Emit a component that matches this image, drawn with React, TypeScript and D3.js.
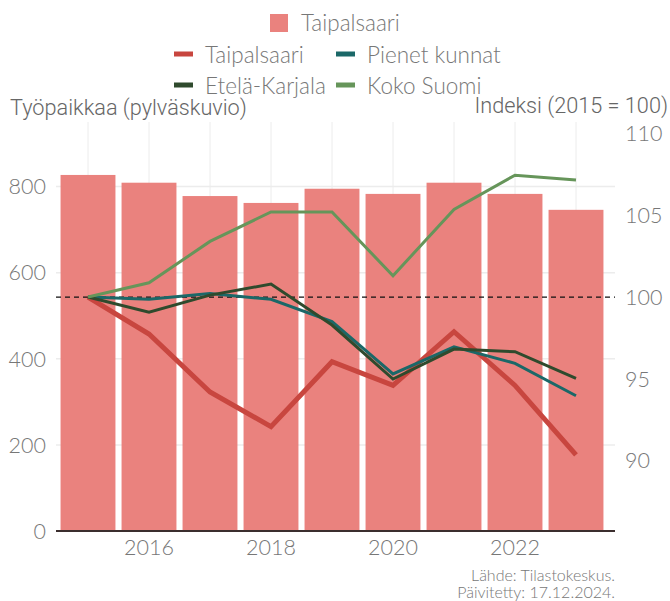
import React from "react";
import * as d3 from "d3";

const years = [2015, 2016, 2017, 2018, 2019, 2020, 2021, 2022, 2023];
const barValues = [827, 809, 778, 762, 795, 783, 809, 783, 746];
const taipalsaariIdx = [100, 97.74, 94.2, 92.08, 96.05, 94.6, 97.88, 94.6, 90.35];
const pienetIdx = [100, 99.86, 100.22, 99.86, 98.5, 95.3, 96.96, 95.95, 93.97];
const etelaIdx = [100, 99.08, 100.12, 100.79, 98.29, 94.99, 96.82, 96.66, 95.03];
const kokoIdx = [100, 100.87, 103.4, 105.2, 105.2, 101.3, 105.36, 107.45, 107.15];
const leftTicks = [0, 200, 400, 600, 800];
const rightTicks = [90, 95, 100, 105, 110];
const xTickYears = [2016, 2018, 2020, 2022];

const lineSeries = [
  { name: "Taipalsaari", values: taipalsaariIdx, color: "#c8463f", width: 5 },
  { name: "Pienet kunnat", values: pienetIdx, color: "#1b6868", width: 3 },
  { name: "Etelä-Karjala", values: etelaIdx, color: "#2f4a2d", width: 3 },
  { name: "Koko Suomi", values: kokoIdx, color: "#66955a", width: 3 },
];

const W = 670;
const H = 601;
const plotL = 56;
const plotR = 615;
const plotT = 122;
const plotB = 531;
const light = "Lato, 'Open Sans', sans-serif";
const gray = "#777";
const titleFont = "Roboto, 'Liberation Sans', Arial, sans-serif";

export default function App() {
  const x = d3
    .scaleBand<number>()
    .domain(years)
    .range([57.5, 606.5])
    .paddingInner(0.1)
    .paddingOuter(0.05);
  const yL = d3.scaleLinear().domain([0, 950]).range([plotB, plotT]);
  const yR = d3.scaleLinear().domain([85.7, 110.7]).range([plotB, plotT]);
  const cx = (yr: number) => (x(yr) as number) + x.bandwidth() / 2;
  const line = d3
    .line<number>()
    .x((_, i) => cx(years[i]))
    .y((v) => yR(v));

  return (
    <svg
      width={W}
      height={H}
      style={{ position: "absolute", left: 0, top: 0, background: "#fff" }}
    >
      {/* gridlines */}
      {years.map((yr) => (
        <line
          key={"vg" + yr}
          x1={cx(yr)}
          x2={cx(yr)}
          y1={plotT}
          y2={plotB}
          stroke="#ececec"
          strokeWidth={1}
        />
      ))}
      {leftTicks.slice(1).map((t) => (
        <line
          key={"hg" + t}
          x1={plotL}
          x2={plotR}
          y1={yL(t)}
          y2={yL(t)}
          stroke="#ececec"
          strokeWidth={1.5}
        />
      ))}
      {/* bars */}
      {years.map((yr, i) => (
        <rect
          key={"b" + yr}
          x={x(yr)}
          y={yL(barValues[i])}
          width={x.bandwidth()}
          height={plotB - yL(barValues[i])}
          fill="#ea827e"
        />
      ))}
      {/* reference line at 100 */}
      <line
        x1={plotL}
        x2={plotR}
        y1={yR(100)}
        y2={yR(100)}
        stroke="#111"
        strokeWidth={1.3}
        strokeDasharray="5,4"
      />
      {/* lines */}
      {lineSeries.map((s) => (
        <path
          key={s.name}
          d={line(s.values) || ""}
          fill="none"
          stroke={s.color}
          strokeWidth={s.width}
          strokeLinejoin="miter"
        />
      ))}
      {/* x axis */}
      <line x1={plotL} x2={plotR} y1={plotB} y2={plotB} stroke="#3b2e2e" strokeWidth={2} />
      {xTickYears.map((yr) => (
        <text
          key={"xt" + yr}
          x={cx(yr)}
          y={555}
          textAnchor="middle"
          fontFamily={light}
          fontWeight={300}
          fontSize={21.5}
          fill={gray}
        >
          {yr}
        </text>
      ))}
      {/* left ticks */}
      {leftTicks.map((t) => (
        <text
          key={"lt" + t}
          x={46}
          y={yL(t)}
          dy="0.36em"
          textAnchor="end"
          fontFamily={light}
          fontWeight={300}
          fontSize={21.5}
          fill={gray}
        >
          {t}
        </text>
      ))}
      {/* right ticks */}
      {rightTicks.map((t) => (
        <text
          key={"rt" + t}
          x={625}
          y={yR(t)}
          dy="0.36em"
          textAnchor="start"
          fontFamily={light}
          fontWeight={300}
          fontSize={21.5}
          fill={gray}
        >
          {t}
        </text>
      ))}
      {/* axis titles */}
      <text x={10} y={115} fontFamily={titleFont} fontWeight={300} fontSize={21.7} fill="#666">
        Työpaikkaa (pylväskuvio)
      </text>
      <text
        x={668}
        y={113}
        textAnchor="end"
        fontFamily={titleFont}
        fontWeight={300}
        fontSize={21.7}
        fill="#666"
      >
        Indeksi (2015 = 100)
      </text>
      {/* legend */}
      <rect x={270} y={14} width={18} height={18} fill="#ea827e" />
      <text x={301} y={30.5} fontFamily={light} fontWeight={300} fontSize={22.5} fill={gray}>
        Taipalsaari
      </text>
      {[
        { s: lineSeries[0], lx: 174, ly: 54 },
        { s: lineSeries[1], lx: 336, ly: 54 },
        { s: lineSeries[2], lx: 174, ly: 85 },
        { s: lineSeries[3], lx: 336, ly: 85 },
      ].map(({ s, lx, ly }) => (
        <g key={"lg" + s.name}>
          <rect x={lx} y={ly - 2.5} width={19} height={5} fill={s.color} />
          <text
            x={lx + 31}
            y={ly + 8.5}
            fontFamily={light}
            fontWeight={300}
            fontSize={22.5}
            fill={gray}
          >
            {s.name}
          </text>
        </g>
      ))}
      {/* footer */}
      <text x={615} y={580.5} textAnchor="end" fontFamily={light} fontWeight={300} fontSize={16} fill={gray}>
        Lähde: Tilastokeskus.
      </text>
      <text x={615} y={598} textAnchor="end" fontFamily={light} fontWeight={300} fontSize={16} fill={gray}>
        Päivitetty: 17.12.2024.
      </text>
    </svg>
  );
}
